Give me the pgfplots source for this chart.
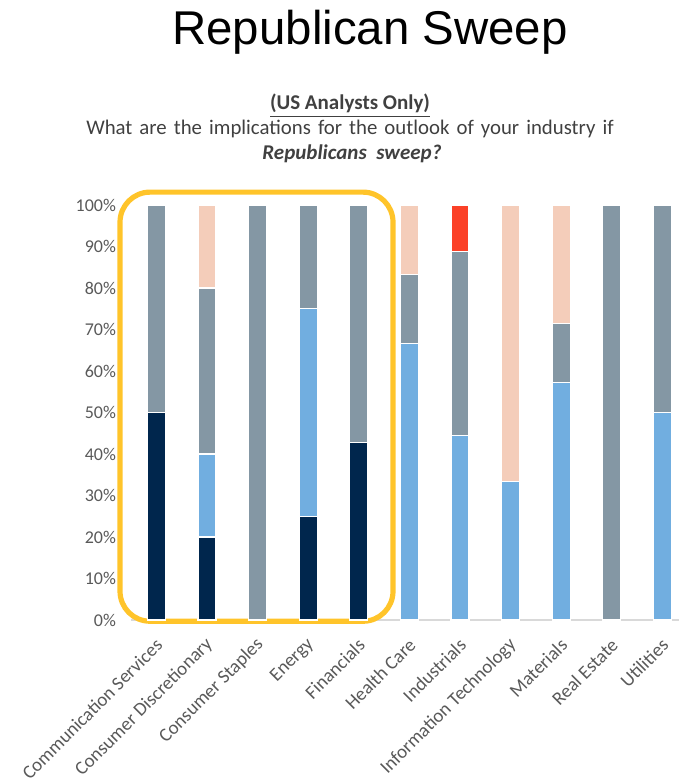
\documentclass[border=0pt]{standalone}
\usepackage{pgfplots}
\pgfplotsset{compat=1.18}
\usepackage{pgfplotstable}
\usepackage{fontspec}
\setmainfont{Carlito}
\newfontfamily\titlefont{Liberation Sans}
\newfontfamily\widefont[WordSpace=1.5]{Carlito}
\definecolor{cnavy}{HTML}{00264D}
\definecolor{clblue}{HTML}{71AEE0}
\definecolor{cgrey}{HTML}{8497A4}
\definecolor{cpeach}{HTML}{F4CDBA}
\definecolor{cred}{HTML}{FB4127}
\definecolor{cyel}{HTML}{FFC42A}
\definecolor{ctick}{HTML}{595959}
\definecolor{ctext}{HTML}{404040}
\pgfplotstableread{
x navy lblue grey peach red
0 50 0 50 0 0
1 20 20 40 20 0
2 0 0 100 0 0
3 25 50 25 0 0
4 42.86 0 57.14 0 0
5 0 66.67 16.67 16.66 0
6 0 44.44 44.45 0 11.11
7 0 33.33 0 66.67 0
8 0 57.14 14.29 28.57 0
9 0 0 100 0 0
10 0 50 50 0 0
}\datatab
\begin{document}
\begin{tikzpicture}
\useasboundingbox (0,0) rectangle (339.5pt,391pt);
\node[font=\titlefont\fontsize{23.7}{28}\selectfont, anchor=base] at (185pt,368.5pt) {Republican Sweep};
\node[font=\fontsize{10.5}{12}\selectfont\bfseries, text=ctext, anchor=base] at (175pt,336pt) {\underline{(US Analysts Only)}};
\node[font=\widefont\fontsize{10.4}{12}\selectfont, text=ctext, anchor=base] at (175pt,323.5pt) {What are the implications for the outlook of your industry if};
\node[font=\fontsize{10.5}{12}\selectfont\bfseries\itshape, text=ctext, anchor=base] at (176pt,311pt) {Republicans\ \ sweep?};
\begin{axis}[
  at={(65.5pt,81pt)}, anchor=south west,
  scale only axis, width=274pt, height=207.5pt,
  xmin=-0.5, xmax=10.33, ymin=0, ymax=100,
  ybar stacked, bar width=9pt,
  clip=false,
  axis x line*=bottom, axis y line*=left,
  x axis line style={draw=black!15, line width=0.8pt, -},
  y axis line style={draw=none},
  major tick length=0pt,
  xtick={0,...,10},
  xticklabels={Communication Services,Consumer Discretionary,Consumer Staples,Energy,Financials,Health Care,Industrials,Information Technology,Materials,Real Estate,Utilities},
  xticklabel style={rotate=45, anchor=east, font=\fontsize{9.5}{11}\selectfont, text=ctick, inner sep=1pt, xshift=-5.6pt, yshift=-8.8pt},
  ytick={0,10,...,100},
  yticklabels={0\%,10\%,20\%,30\%,40\%,50\%,60\%,70\%,80\%,90\%,100\%},
  yticklabel style={font=\fontsize{9}{11}\selectfont, text=ctick, xshift=-4pt},
  every axis plot/.append style={draw=white, line width=0.6pt},
]
\addplot[fill=cnavy] table[x=x,y=navy]{\datatab};
\addplot[fill=clblue] table[x=x,y=lblue]{\datatab};
\addplot[fill=cgrey] table[x=x,y=grey]{\datatab};
\addplot[fill=cpeach] table[x=x,y=peach]{\datatab};
\addplot[fill=cred] table[x=x,y=red]{\datatab};
\draw[cyel, line width=2.6pt, rounded corners=15pt] (axis cs:-0.717,-0.3) rectangle (axis cs:4.678,103.1);
\end{axis}
\end{tikzpicture}
\end{document}
